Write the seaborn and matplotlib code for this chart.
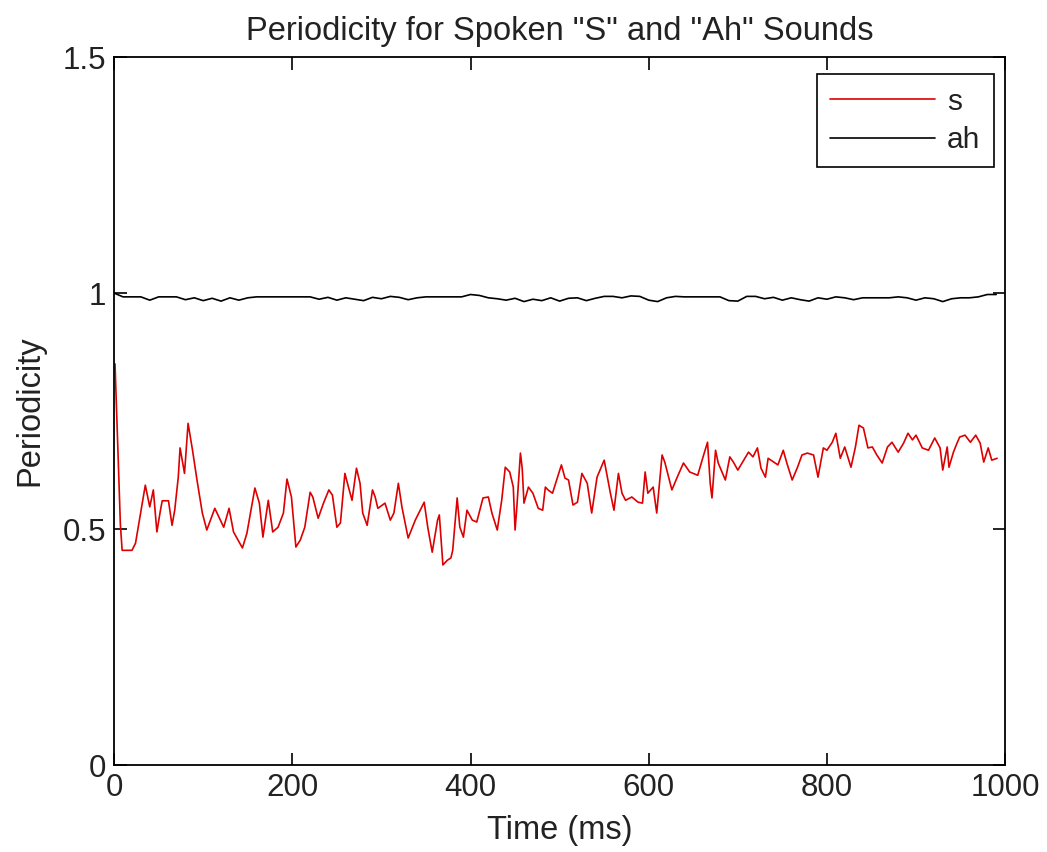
import numpy as np
import pandas as pd
import seaborn as sns
import matplotlib
matplotlib.use("Agg")
import matplotlib.pyplot as plt

# ---- data ----
s_time = [1, 3, 5, 7, 9, 20, 24, 35, 40, 44, 48, 52, 54, 61, 65, 68, 72, 74, 79, 83,
          88, 93, 99, 104, 113, 123, 129, 134, 144, 149, 158, 163, 167, 173, 178, 184, 190, 194, 199, 204,
          209, 214, 220, 223, 229, 235, 241, 245, 250, 254, 259, 263, 267, 272, 276, 279, 284, 290, 293, 296,
          304, 310, 314, 319, 323, 330, 338, 348, 352, 357, 363, 365, 369, 374, 378, 380, 385, 388, 392, 396,
          402, 407, 414, 420, 424, 430, 435, 439, 444, 448, 450, 452, 456, 458, 460, 465, 470, 476, 481, 484,
          487, 492, 502, 506, 510, 515, 520, 525, 531, 536, 542, 550, 557, 561, 566, 570, 574, 581, 588, 593,
          596, 599, 605, 609, 615, 618, 626, 632, 639, 646, 655, 661, 666, 669, 671, 675, 678, 686, 691, 695,
          700, 712, 717, 722, 726, 731, 734, 742, 745, 751, 755, 761, 767, 772, 778, 785, 790, 796, 800, 806,
          810, 815, 820, 827, 832, 836, 841, 846, 851, 856, 862, 868, 873, 880, 886, 891, 896, 900, 907, 914,
          921, 927, 930, 935, 937, 942, 946, 949, 955, 961, 967, 972, 976, 981, 985, 991]
s_value = [0.850, 0.740, 0.625, 0.510, 0.455, 0.455, 0.470, 0.593, 0.547, 0.583, 0.494, 0.540, 0.560, 0.560, 0.508, 0.540, 0.610, 0.672, 0.618, 0.724,
           0.667, 0.604, 0.534, 0.498, 0.544, 0.504, 0.544, 0.494, 0.460, 0.491, 0.587, 0.555, 0.483, 0.561, 0.494, 0.504, 0.534, 0.606, 0.568, 0.462,
           0.477, 0.504, 0.578, 0.568, 0.523, 0.555, 0.583, 0.572, 0.504, 0.513, 0.618, 0.589, 0.561, 0.629, 0.597, 0.534, 0.508, 0.583, 0.568, 0.544,
           0.555, 0.519, 0.534, 0.597, 0.547, 0.481, 0.519, 0.557, 0.504, 0.451, 0.519, 0.530, 0.424, 0.434, 0.439, 0.455, 0.566, 0.504, 0.483, 0.540,
           0.519, 0.515, 0.566, 0.568, 0.534, 0.498, 0.561, 0.631, 0.621, 0.589, 0.498, 0.547, 0.661, 0.629, 0.555, 0.589, 0.576, 0.544, 0.540, 0.589,
           0.583, 0.576, 0.636, 0.608, 0.604, 0.551, 0.557, 0.618, 0.597, 0.534, 0.610, 0.646, 0.576, 0.540, 0.618, 0.576, 0.561, 0.568, 0.557, 0.555,
           0.621, 0.576, 0.589, 0.534, 0.657, 0.642, 0.583, 0.610, 0.640, 0.621, 0.614, 0.653, 0.684, 0.597, 0.566, 0.667, 0.640, 0.604, 0.653, 0.642,
           0.625, 0.663, 0.653, 0.672, 0.629, 0.610, 0.650, 0.640, 0.636, 0.667, 0.640, 0.604, 0.631, 0.657, 0.661, 0.657, 0.610, 0.672, 0.667, 0.684,
           0.703, 0.650, 0.674, 0.631, 0.674, 0.720, 0.714, 0.672, 0.674, 0.657, 0.640, 0.674, 0.684, 0.663, 0.682, 0.703, 0.689, 0.699, 0.672, 0.667,
           0.693, 0.672, 0.625, 0.674, 0.631, 0.663, 0.682, 0.695, 0.699, 0.684, 0.699, 0.682, 0.642, 0.672, 0.646, 0.650]

ah_time = list(range(0, 1000, 10))
ah_value = [1.000, 0.992, 0.992, 0.992, 0.985, 0.992, 0.992, 0.992, 0.986, 0.990,
            0.984, 0.989, 0.983, 0.990, 0.985, 0.990, 0.992, 0.992, 0.992, 0.992,
            0.992, 0.992, 0.992, 0.987, 0.991, 0.985, 0.990, 0.987, 0.984, 0.991,
            0.988, 0.993, 0.991, 0.986, 0.990, 0.992, 0.992, 0.992, 0.992, 0.992,
            0.997, 0.995, 0.990, 0.988, 0.985, 0.989, 0.982, 0.987, 0.984, 0.990,
            0.983, 0.989, 0.990, 0.984, 0.989, 0.993, 0.993, 0.990, 0.994, 0.993,
            0.985, 0.982, 0.990, 0.993, 0.992, 0.992, 0.992, 0.992, 0.992, 0.984,
            0.983, 0.993, 0.993, 0.988, 0.991, 0.985, 0.990, 0.986, 0.983, 0.990,
            0.987, 0.992, 0.990, 0.986, 0.990, 0.990, 0.990, 0.990, 0.992, 0.990,
            0.985, 0.990, 0.988, 0.982, 0.988, 0.990, 0.990, 0.992, 0.997, 0.997]

x_ticks = [0, 200, 400, 600, 800, 1000]
y_ticks = [0, 0.5, 1, 1.5]
y_tick_labels = ["0", "0.5", "1", "1.5"]

title = 'Periodicity for Spoken "S" and "Ah" Sounds'
x_label = "Time (ms)"
y_label = "Periodicity"

# ---- plotting ----
sns.set_style("white")
plt.rcParams["font.family"] = ["Liberation Sans", "DejaVu Sans"]

fig = plt.figure(figsize=(10.47, 8.52), dpi=100)
ax = fig.add_axes([0.109, 0.102, 0.851, 0.831])

s_df = pd.DataFrame({"t": s_time, "v": s_value})
ah_df = pd.DataFrame({"t": ah_time, "v": ah_value})
sns.lineplot(data=s_df, x="t", y="v", ax=ax, color="#dd0000", linewidth=1.2, label="s")
sns.lineplot(data=ah_df, x="t", y="v", ax=ax, color="black", linewidth=1.2, label="ah")

ax.set_xlim(0, 1000)
ax.set_ylim(0, 1.5)
ax.set_xticks(x_ticks)
ax.set_xticklabels([str(v) for v in x_ticks])
ax.set_yticks(y_ticks)
ax.set_yticklabels(y_tick_labels)
ax.tick_params(axis="both", direction="in", length=9, width=1.2, labelsize=22.5,
               top=True, right=True, bottom=True, left=True,
               color="black", labelcolor="#222222", pad=6)
for sp in ax.spines.values():
    sp.set_visible(True)
    sp.set_color("black")
    sp.set_linewidth(1.3)

ax.set_title(title, fontsize=23.5, color="#222222", pad=12)
ax.set_xlabel(x_label, fontsize=23.5, color="#222222", labelpad=8)
ax.set_ylabel(y_label, fontsize=23.5, color="#222222", labelpad=12)

leg = ax.legend(loc="upper right", bbox_to_anchor=(0.987, 0.976), fontsize=21.5,
                frameon=True, fancybox=False, edgecolor="black", framealpha=1,
                handlelength=3.5, borderpad=0.45, labelspacing=0.35, handletextpad=0.4,
                borderaxespad=0)
leg.get_frame().set_linewidth(1.2)
for t in leg.get_texts():
    t.set_color("#222222")

fig.savefig("out.png", dpi=100, facecolor="white")
